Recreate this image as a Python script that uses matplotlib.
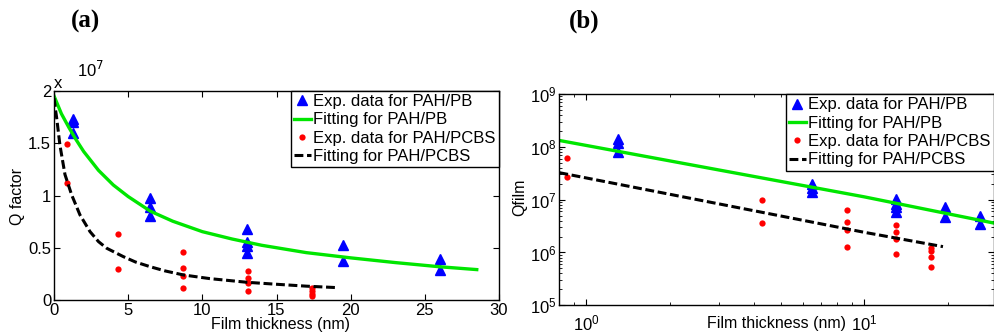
import matplotlib
matplotlib.use("Agg")
import matplotlib.pyplot as plt
from matplotlib.ticker import LogLocator, NullFormatter

plt.rcParams['font.family'] = ['Liberation Sans', 'DejaVu Sans']

# ---- panel (a): Q factor vs film thickness (values x 1e7)
pb_t = [1.3, 1.3, 1.3, 6.5, 6.5, 6.5, 13, 13, 13, 13, 19.5, 19.5, 26, 26]
pb_q_a = [1.73, 1.70, 1.60, 0.98, 0.89, 0.80, 0.68, 0.56, 0.52, 0.455, 0.53, 0.373, 0.39, 0.287]

pcbs_t = [0.85, 0.85, 4.3, 4.3, 8.7, 8.7, 8.7, 8.7, 13.05, 13.05, 13.05, 13.05, 17.4, 17.4, 17.4, 17.4]
pcbs_q_a = [1.487, 1.115, 0.637, 0.296, 0.465, 0.312, 0.236, 0.118,
            0.277, 0.217, 0.166, 0.086, 0.121, 0.089, 0.064, 0.045]

fit_pb_t_a = [0, 0.5, 1, 1.5, 2, 3, 4, 5, 6.5, 8, 10, 12, 14, 17, 20, 23, 26, 28.5]
fit_pb_q_a = [1.95, 1.78, 1.65, 1.53, 1.42, 1.24, 1.10, 0.99, 0.85, 0.755, 0.655, 0.585,
              0.525, 0.455, 0.405, 0.36, 0.32, 0.293]

fit_pcbs_t_a = [0, 0.1, 0.18, 0.4, 0.74, 1.19, 1.75, 2.43, 3.0, 3.55, 4.67, 5.5, 6.47,
                7.5, 8.72, 10.5, 13, 15, 17, 19.08]
fit_pcbs_q_a = [1.93, 1.82, 1.74, 1.48, 1.20, 1.006, 0.815, 0.655, 0.56, 0.497, 0.417,
                0.365, 0.321, 0.28, 0.242, 0.207, 0.172, 0.153, 0.135, 0.121]

# ---- panel (b): Qfilm vs film thickness (log-log)
pb_q_b = [1.39e8, 1.2e8, 8.1e7, 1.98e7, 1.69e7, 1.38e7, 1.03e7, 8.3e6, 7.2e6, 5.9e6,
          7.4e6, 4.6e6, 4.9e6, 3.46e6]
pcbs_q_b = [6.05e7, 2.65e7, 9.7e6, 3.56e6, 6.28e6, 3.84e6, 2.67e6, 1.29e6,
            3.27e6, 2.44e6, 1.83e6, 9.2e5, 1.2e6, 1.08e6, 8.3e5, 5.4e5]

fit_pb_t_b = [0.8, 10, 29.3]
fit_pb_q_b = [1.32e8, 1.13e7, 3.6e6]
fit_pcbs_t_b = [0.8, 10, 19.2]
fit_pcbs_q_b = [3.24e7, 2.41e6, 1.29e6]

labels = ["Exp. data for PAH/PB", "Fitting for PAH/PB",
          "Exp. data for PAH/PCBS", "Fitting for PAH/PCBS"]

green = '#00e600'
dash = (2.9, 1.2)

fig = plt.figure(figsize=(9.94, 3.35), dpi=100)
ax1 = fig.add_axes([54 / 994, 34.7 / 335, 445 / 994, 209.6 / 335])
ax2 = fig.add_axes([559.3 / 994, 29.7 / 335, 434.7 / 994, 211.3 / 335])


def draw(ax, qpb, qpcbs, fpt, fpq, fct, fcq):
    ax.plot(pb_t, qpb, '^', color='blue', ms=7, mec='blue', label=labels[0])
    ax.plot(fpt, fpq, '-', color=green, lw=2.4, label=labels[1])
    ax.plot(pcbs_t, qpcbs, 'o', color='red', ms=4.5, mew=0, label=labels[2])
    ax.plot(fct, fcq, '--', color='black', lw=2.2, dashes=dash, label=labels[3])
    leg = ax.legend(loc='upper right', bbox_to_anchor=(1.0, 1.0), borderaxespad=0,
                    fontsize=12, fancybox=False, framealpha=1, edgecolor='black',
                    handlelength=1.0, handletextpad=0.15, labelspacing=0.2, borderpad=0.2)
    leg.get_frame().set_linewidth(1.0)
    for s in ax.spines.values():
        s.set_linewidth(1.0)
    ax.tick_params(which='both', direction='in', top=True, right=True, labelsize=12)
    ax.tick_params(which='major', length=4)
    ax.tick_params(which='minor', length=2)


# panel (a)
draw(ax1, pb_q_a, pcbs_q_a, fit_pb_t_a, fit_pb_q_a, fit_pcbs_t_a, fit_pcbs_q_a)
ax1.set_xlim(0, 30)
ax1.set_ylim(0, 2)
ax1.set_xticks([0, 5, 10, 15, 20, 25, 30])
ax1.set_yticks([0, 0.5, 1, 1.5, 2])
ax1.set_yticklabels(['0', '0.5', '1', '1.5', '2'])
ax1.tick_params(axis='x', pad=2)
ax1.tick_params(axis='y', pad=2)
ax1.set_xlabel("Film thickness (nm)", fontsize=11.5)
ax1.xaxis.set_label_coords(0.508, -0.082)
ax1.set_ylabel("Q factor", fontsize=11.5)
ax1.yaxis.set_label_coords(-0.065, 0.493)
fig.text(58 / 994, 1 - 84 / 335, "x", fontsize=12, ha='center', va='center')
fig.text(77 / 994, 1 - 77 / 335, r"10$^{7}$", fontsize=12, ha='left', va='baseline')

# panel (b)
draw(ax2, pb_q_b, pcbs_q_b, fit_pb_t_b, fit_pb_q_b, fit_pcbs_t_b, fit_pcbs_q_b)
ax2.set_xscale('log')
ax2.set_yscale('log')
ax2.set_xlim(0.8, 29.3)
ax2.set_ylim(1e5, 1e9)
ax2.xaxis.set_major_locator(LogLocator(base=10, numticks=10))
ax2.xaxis.set_minor_locator(LogLocator(base=10, subs=range(2, 10), numticks=20))
ax2.xaxis.set_minor_formatter(NullFormatter())
ax2.yaxis.set_major_locator(LogLocator(base=10, numticks=10))
ax2.yaxis.set_minor_locator(LogLocator(base=10, subs=range(2, 10), numticks=20))
ax2.yaxis.set_minor_formatter(NullFormatter())
ax2.tick_params(axis='x', pad=6)
ax2.tick_params(axis='y', pad=2)
ax2.set_xlabel("Film thickness (nm)", fontsize=11.5)
ax2.xaxis.set_label_coords(0.5, -0.05)
ax2.set_ylabel("Qfilm", fontsize=11.5)
ax2.yaxis.set_label_coords(-0.074, 0.513)

fig.text(85 / 994, 1 - 21 / 335, "(a)", family=['Liberation Serif', 'DejaVu Serif'],
         fontweight='bold', fontsize=18, ha='center', va='center')
fig.text(584 / 994, 1 - 21 / 335, "(b)", family=['Liberation Serif', 'DejaVu Serif'],
         fontweight='bold', fontsize=18, ha='center', va='center')

fig.savefig("out.png", dpi=100)
